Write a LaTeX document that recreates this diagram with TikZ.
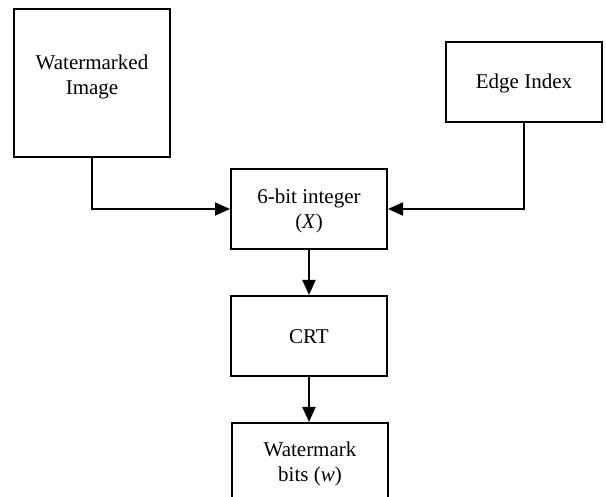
\documentclass[tikz,border=0pt]{standalone}
\usepackage{fontspec}
\setmainfont{Liberation Serif}
\usetikzlibrary{arrows.meta}
\begin{document}
\begin{tikzpicture}[x=1pt,y=-1pt,
  blockbox/.style={draw, line width=2pt, inner sep=0pt,
    minimum width=156pt, minimum height=80pt},
  caption/.style={inner sep=0pt, align=center,
    font=\fontsize{21}{24.5}\selectfont},
  link/.style={line width=2pt},
  flow/.style={link, -{Triangle[length=15pt,width=13pt]}}]
  \clip (0,0) rectangle (606,497);
  \fill[white] (0,0) rectangle (606,497);
  % input blocks
  \node[blockbox, minimum height=148pt] (wimg) at (92,83) {};
  \node[caption] (wimgtext) at (92,77) {Watermarked\\Image};
  \node[blockbox] (edge) at (524,82) {};
  \node[caption] (edgetext) at (524,83) {Edge Index};
  % processing chain
  \node[blockbox] (six) at (309,209) {};
  \node[caption] (sixtext) at (309,211) {6-bit integer\\(\textit{X})};
  \node[blockbox] (crt) at (309,336) {};
  \node[caption] (crttext) at (309,337) {CRT};
  \node[blockbox] (wbits) at (310,463) {};
  \node[caption] (wbitstext) at (310,464) {Watermark\\bits (\textit{w})};
  % connectors
  \draw[flow] (wimg.south) |- (six.west);
  \draw[flow] (edge.south) |- (six.east);
  \draw[flow] (six.south) -- (crt.north);
  \draw[flow] (crt.south) -- (crt.south |- wbits.north);
\end{tikzpicture}
\end{document}
